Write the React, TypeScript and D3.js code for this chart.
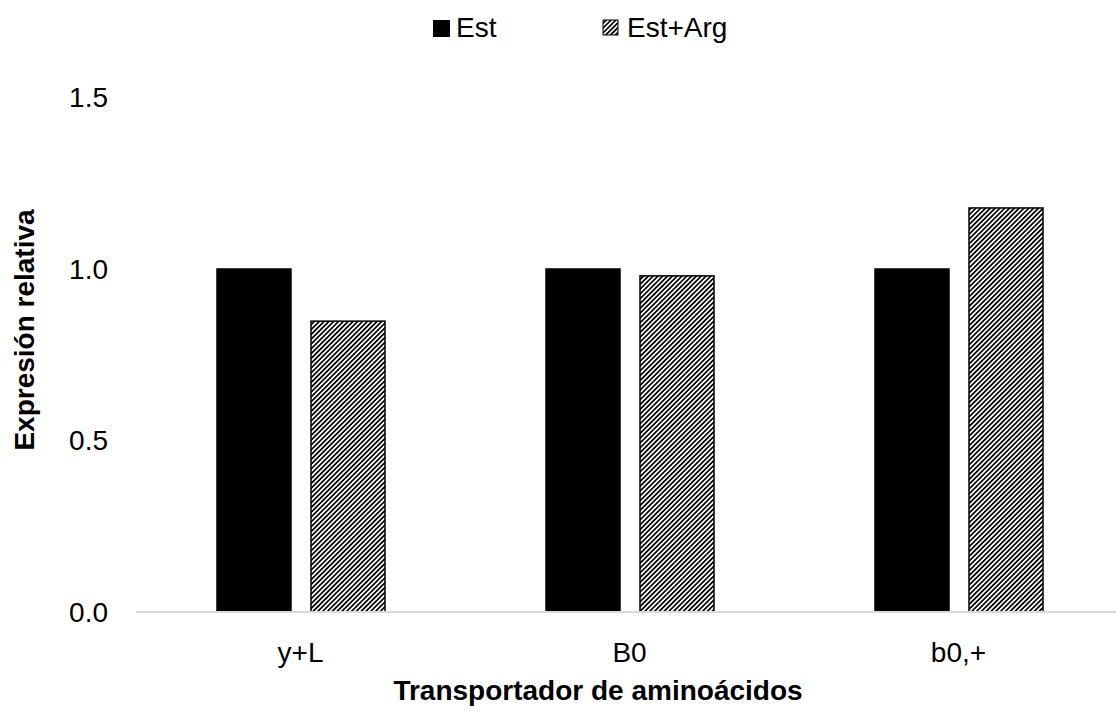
import React from "react";
import * as d3 from "d3";

const categories = ["y+L", "B0", "b0,+"];
const seriesNames = ["Est", "Est+Arg"];
const estValues = [1.0, 1.0, 1.0];
const estArgValues = [0.848, 0.98, 1.178];
const yTicks = [0.0, 0.5, 1.0, 1.5];

const W = 1116;
const H = 711;
const FONT = "'Liberation Sans', Arial, sans-serif";

export default function App() {
  const x = d3.scaleBand<string>().domain(categories).range([136, 1123]);
  const inner = d3
    .scaleBand<string>()
    .domain(seriesNames)
    .range([81, 81 + 168])
    .paddingInner(20 / 94);
  const y = d3.scaleLinear().domain([0, 1.5]).range([612, 97.5]);

  const series = [
    { name: seriesNames[0], values: estValues, fill: "#000000" },
    { name: seriesNames[1], values: estArgValues, fill: "url(#hatch)" },
  ];

  return (
    <svg
      width={W}
      height={H}
      style={{ position: "absolute", left: 0, top: 0, background: "#fff" }}
      fontFamily={FONT}
    >
      <defs>
        <pattern
          id="hatch"
          patternUnits="userSpaceOnUse"
          width={3.4}
          height={3.4}
          patternTransform="rotate(45)"
        >
          <rect width={3.4} height={3.4} fill="#fff" />
          <rect x={0} y={0} width={1.7} height={3.4} fill="#000" />
        </pattern>
      </defs>

      {/* y tick labels */}
      {yTicks.map((t) => (
        <text
          key={t}
          x={108}
          y={y(t)}
          dy="0.35em"
          textAnchor="end"
          fontSize={28}
          fill="#000"
        >
          {d3.format(".1f")(t)}
        </text>
      ))}

      {/* bars */}
      {series.map((s) =>
        categories.map((c, i) => {
          const bx = (x(c) ?? 0) + (inner(s.name) ?? 0);
          const by = y(s.values[i]);
          return (
            <rect
              key={s.name + c}
              x={bx}
              y={by}
              width={inner.bandwidth()}
              height={y(0) - by}
              fill={s.fill}
              stroke="#000"
              strokeWidth={1.5}
            />
          );
        })
      )}

      {/* x axis line */}
      <line x1={136} x2={W} y1={y(0)} y2={y(0)} stroke="#d9d9d9" strokeWidth={2} />

      {/* x tick labels */}
      {categories.map((c) => (
        <text
          key={c}
          x={(x(c) ?? 0) + x.bandwidth() / 2}
          y={662}
          textAnchor="middle"
          fontSize={28}
          fill="#000"
        >
          {c}
        </text>
      ))}

      {/* axis titles */}
      <text
        x={598}
        y={700}
        textAnchor="middle"
        fontSize={28}
        fontWeight="bold"
        fill="#000"
      >
        Transportador de aminoácidos
      </text>
      <text
        transform={`translate(34,330) rotate(-90)`}
        textAnchor="middle"
        fontSize={28}
        fontWeight="bold"
        fill="#000"
      >
        Expresión relativa
      </text>

      {/* legend */}
      <rect x={433} y={20} width={17} height={17} fill="#000" />
      <text x={456} y={37} fontSize={28} fill="#000">
        {seriesNames[0]}
      </text>
      <rect x={603} y={20} width={15} height={15} fill="url(#hatch)" stroke="#000" strokeWidth={1} />
      <text x={627} y={37} fontSize={28} fill="#000">
        {seriesNames[1]}
      </text>
    </svg>
  );
}
